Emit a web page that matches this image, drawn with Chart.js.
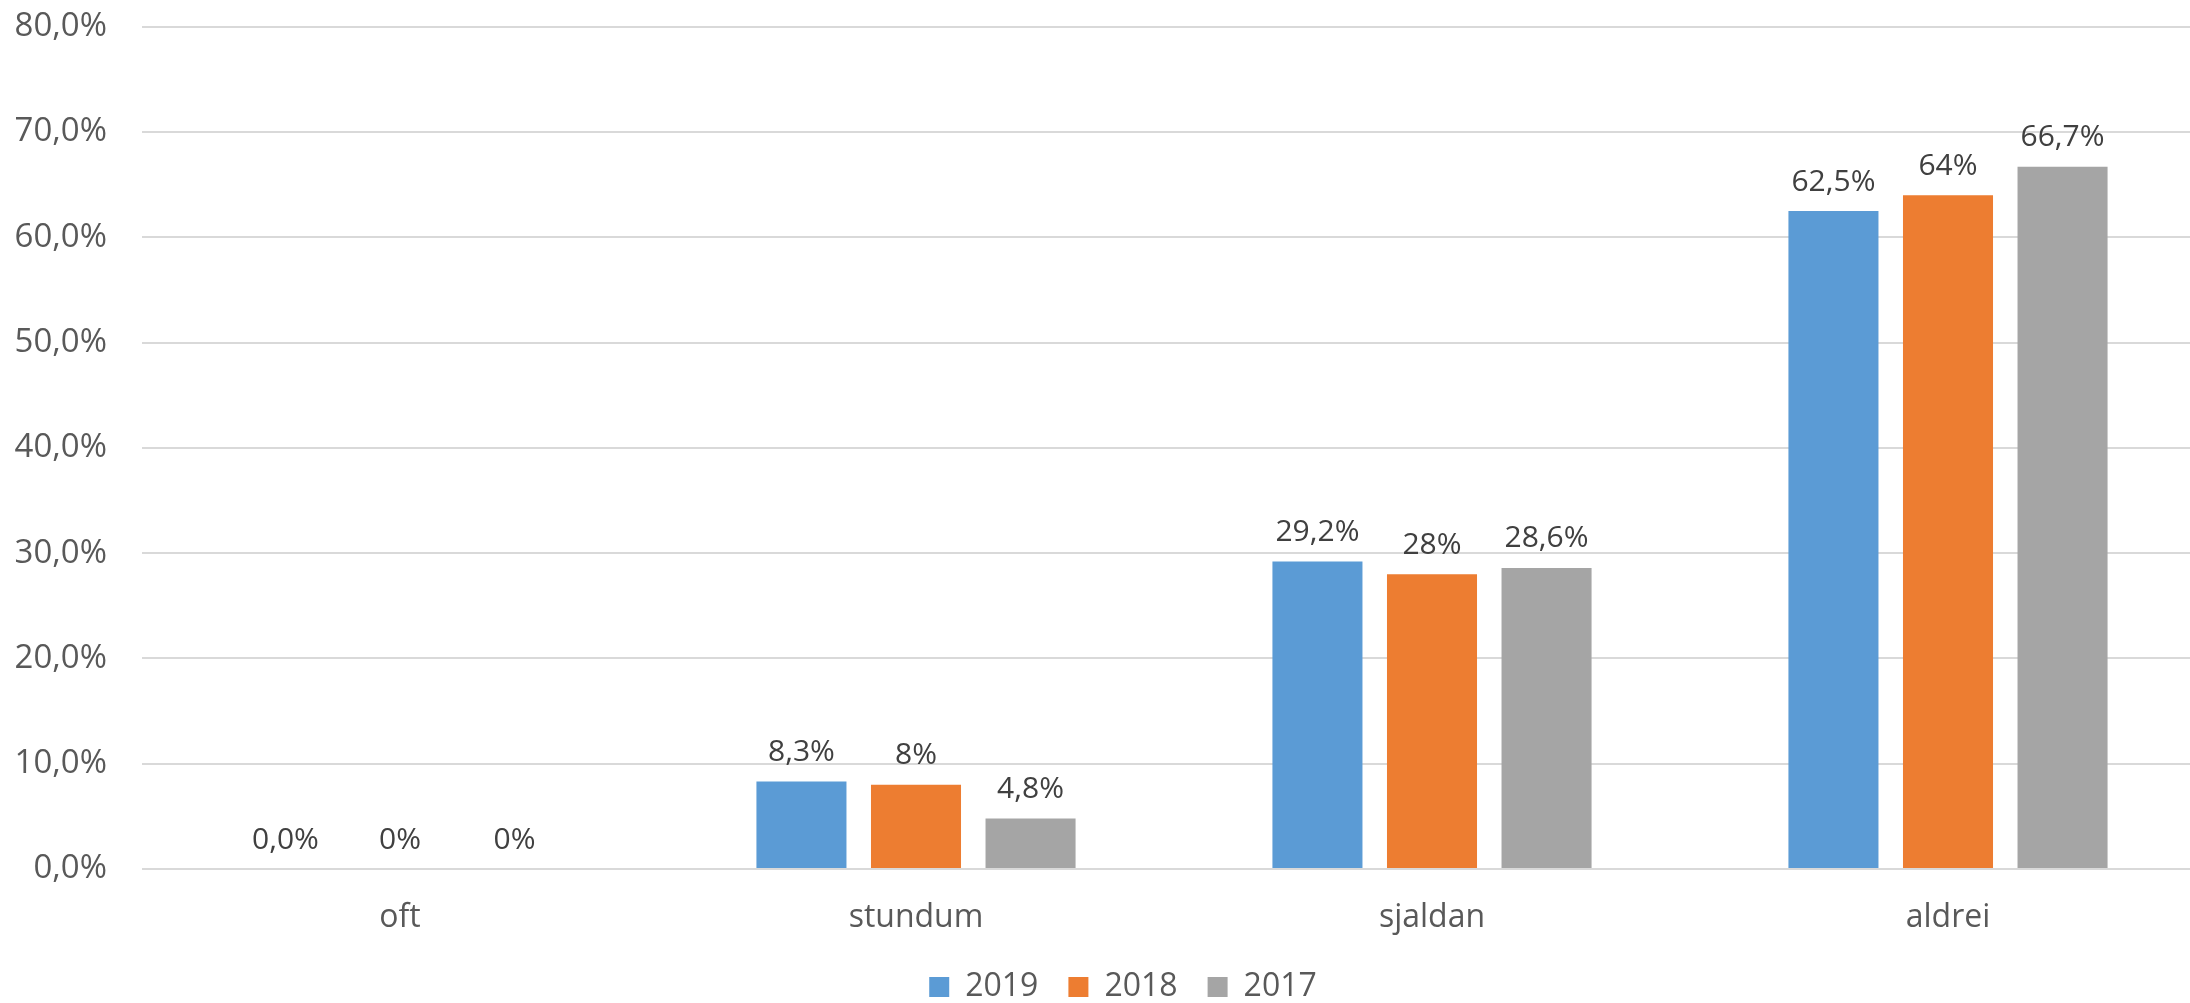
<!DOCTYPE html>
<html>
<head>
<meta charset="utf-8">
<script src="https://cdn.jsdelivr.net/npm/chart.js@4"></script>
<style>
  html, body { margin: 0; padding: 0; background: #ffffff; overflow: hidden; }
  #wrap { width: 2190px; height: 1003px; overflow: hidden; position: relative; }
  canvas { display: block; position: absolute; left: 0; top: -28px; }
</style>
</head>
<body>
<div id="wrap"><canvas id="c" width="2246" height="1041"></canvas></div>
<script>
const categories = ['oft', 'stundum', 'sjaldan', 'aldrei'];
const seriesNames = ['2019', '2018', '2017'];
const values2019 = [0.0, 8.3, 29.2, 62.5];
const values2018 = [0, 8, 28, 64];
const values2017 = [0, 4.8, 28.6, 66.7];
const labelDecimals = [1, null, null];
const yTicks = [0, 10, 20, 30, 40, 50, 60, 70, 80];
const colors = ['#5B9BD5', '#ED7D31', '#A5A5A5'];

const FONT = "'Open Sans', 'Noto Sans', sans-serif";

function fmtLabel(v, dec) {
  const s = (dec === null) ? String(v) : v.toFixed(dec);
  return s.replace('.', ',') + '%';
}

const dataLabelPlugin = {
  id: 'dataLabels',
  afterDatasetsDraw(chart) {
    const ctx = chart.ctx;
    ctx.save();
    ctx.font = "30px " + FONT;
    ctx.fillStyle = '#404040';
    ctx.textAlign = 'center';
    ctx.textBaseline = 'middle';
    chart.data.datasets.forEach((ds, di) => {
      const meta = chart.getDatasetMeta(di);
      meta.data.forEach((el, i) => {
        ctx.fillText(fmtLabel(ds.data[i], labelDecimals[di]), el.x, el.y - 29);
      });
    });
    ctx.restore();
  }
};

const allSeries = [values2019, values2018, values2017];

new Chart(document.getElementById('c'), {
  type: 'bar',
  data: {
    labels: categories,
    datasets: allSeries.map((d, i) => ({
      label: seriesNames[i],
      data: d,
      backgroundColor: colors[i],
      borderWidth: 0,
      categoryPercentage: 0.666,
      barPercentage: 0.786
    }))
  },
  options: {
    responsive: false,
    animation: false,
    devicePixelRatio: 1,
    layout: { padding: { top: 0, left: 0, right: 0, bottom: 0 } },
    plugins: {
      legend: {
        position: 'bottom',
        labels: {
          font: { family: FONT, size: 32 },
          color: '#595959',
          boxWidth: 20,
          boxHeight: 20,
          padding: 30
        }
      },
      tooltip: { enabled: false },
      title: { display: false }
    },
    scales: {
      x: {
        grid: { display: false },
        border: { display: false },
        ticks: {
          font: { family: FONT, size: 32 },
          color: '#595959',
          padding: 22
        },
        afterFit(s) { s.height = 72; }
      },
      y: {
        min: 0,
        max: 80,
        afterBuildTicks(s) { s.ticks = yTicks.map(v => ({ value: v })); },
        grid: { color: '#D9D9D9', lineWidth: 2, drawTicks: false },
        border: { display: false },
        ticks: {
          font: { family: FONT, size: 33 },
          color: '#595959',
          padding: 35,
          callback: (v) => v.toFixed(1).replace('.', ',') + '%'
        },
        afterFit(s) { s.width = 142; }
      },
      y2: {
        position: 'right',
        display: true,
        grid: { display: false },
        border: { display: false },
        ticks: { display: false },
        afterFit(s) { s.width = 40; }
      }
    }
  },
  plugins: [dataLabelPlugin]
});
</script>
</body>
</html>
